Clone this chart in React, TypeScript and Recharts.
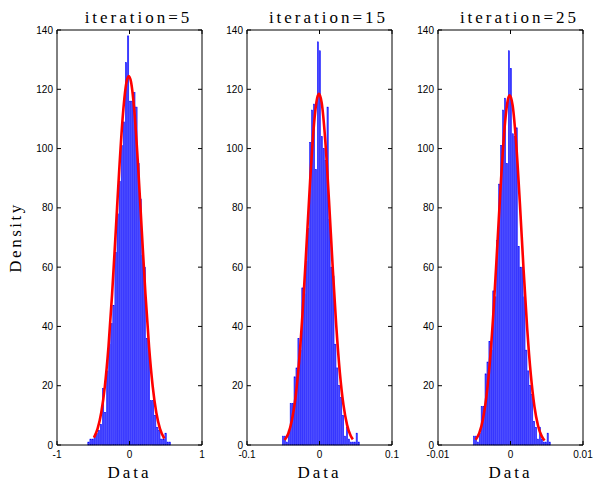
import { ComposedChart, Bar, Line, XAxis, YAxis, Label } from 'recharts'

// histogram counts per bin (40 equal-width bins per panel)
const binStart1 = -0.58
const binWidth1 = 0.02875
const counts1 = [
  1, 2, 2, 3, 4, 5, 7, 19, 11, 25,
  34, 41, 47, 65, 78, 89, 101, 109, 129, 138,
  116, 116, 119, 114, 95, 83, 64, 60, 36, 32,
  15, 15, 10, 6, 5, 2, 2, 4, 1, 1,
]

const binStart2 = -0.0517
const binWidth2 = 0.002676
const counts2 = [
  3, 3, 1, 5, 14, 14, 23, 26, 36, 32,
  53, 51, 62, 73, 102, 113, 115, 93, 136, 133,
  104, 100, 96, 114, 76, 60, 57, 34, 26, 20,
  16, 10, 3, 6, 2, 1, 1, 1, 4, 1,
]

const binStart3 = -0.00517
const binWidth3 = 0.0002676
const counts3 = [
  3, 3, 1, 4, 13, 13, 24, 28, 35, 32,
  52, 50, 69, 88, 101, 113, 117, 95, 133, 127,
  105, 104, 107, 67, 60, 60, 50, 32, 25, 20,
  17, 8, 6, 2, 6, 2, 1, 1, 4, 1,
]

// fitted density curves
const curveX1 = [-0.49, -0.44, -0.39, -0.34, -0.29, -0.24, -0.19, -0.14, -0.09, -0.04, -0.01, 0.02, 0.07, 0.12, 0.17, 0.22, 0.27, 0.32, 0.37, 0.42, 0.48]
const curveY1 = [2.5, 5.5, 10.9, 19.8, 33.1, 50.9, 72, 93.5, 111.7, 122.6, 124.5, 122.6, 111.7, 93.5, 72, 50.9, 33.1, 19.8, 10.9, 5.5, 2.2]

const curveX2 = [-0.048, -0.043, -0.038, -0.033, -0.028, -0.023, -0.018, -0.013, -0.008, -0.003, -0.0007, 0.003, 0.008, 0.013, 0.018, 0.023, 0.028, 0.033, 0.038, 0.043, 0.046]
const curveY2 = [1.7, 3.9, 8.4, 16.2, 28.6, 45.9, 67, 88.8, 107, 117.3, 118.5, 115.5, 102.6, 82.9, 60.9, 40.6, 24.6, 13.6, 6.8, 3.1, 1.9]

const curveX3 = [-0.0048, -0.0043, -0.0038, -0.0033, -0.0028, -0.0023, -0.0018, -0.0013, -0.0008, -0.0003, -0.0001, 0.0003, 0.0008, 0.0013, 0.0018, 0.0023, 0.0028, 0.0033, 0.0038, 0.0043, 0.0047]
const curveY3 = [1.8, 4.1, 8.7, 16.8, 29.4, 46.9, 68.1, 89.7, 107.5, 117.1, 118, 114.5, 101.1, 81.3, 59.3, 39.4, 23.8, 13.0, 6.5, 3.0, 1.5]

const yTicks = [0, 20, 40, 60, 80, 100, 120, 140]
const xTicks1 = [-1, 0, 1]
const xTicks2 = [-0.1, 0, 0.1]
const xTicks3 = [-0.01, 0, 0.01]
const xLabels1 = ['-1', '0', '1']
const xLabels2 = ['-0.1', '0', '0.1']
const xLabels3 = ['-0.01', '0', '0.01']
const titles = ['iteration=5', 'iteration=15', 'iteration=25']

// layout of each panel's svg
const AXIS_W = 40
const PLOT_W = 145
const PLOT_T = 30
const PLOT_B = 445
const RIGHT_PAD = 15
const CHART_W = AXIS_W + PLOT_W + 1 + RIGHT_PAD
const CHART_H = 483
const panelLefts = [57, 247, 438]

const serif = '"Liberation Serif", "DejaVu Serif", serif'
const sans = '"Liberation Sans", Arial, sans-serif'

function LeftTick({ y, payload }: any) {
  return (
    <g>
      <line x1={AXIS_W} x2={AXIS_W + 4} y1={y} y2={y} stroke="#000" />
      <text x={AXIS_W - 4} y={y + 3.5} textAnchor="end" fontSize={10} fontFamily={sans} fill="#000">
        {payload.value}
      </text>
    </g>
  )
}

function RightTick({ y }: any) {
  const x = AXIS_W + PLOT_W
  return <line x1={x} x2={x - 4} y1={y} y2={y} stroke="#000" />
}

function TopTick({ x }: any) {
  return <line x1={x} x2={x} y1={PLOT_T} y2={PLOT_T + 4} stroke="#000" />
}

function makeBottomTick(ticks: number[], labels: string[]) {
  return function BottomTick({ x, payload }: any) {
    const i = ticks.indexOf(payload.value)
    return (
      <g>
        <line x1={x} x2={x} y1={PLOT_B} y2={PLOT_B - 4} stroke="#000" />
        <text x={x} y={PLOT_B + 13} textAnchor="middle" fontSize={10} fontFamily={sans} fill="#000">
          {labels[i]}
        </text>
      </g>
    )
  }
}

// histogram bar: centred on the scaled bin centre, full bin width minus a hairline gap
function makeHistBar(binPx: number) {
  return function HistBar({ x, y, width, height }: any) {
    if (!height || height <= 0) return null
    const cx = x + width / 2
    return (
      <rect
        x={cx - binPx / 2 + 0.35}
        y={y}
        width={binPx - 0.7}
        height={height}
        fill="#4848ff"
        stroke="#0000ff"
        strokeWidth={0.5}
      />
    )
  }
}

type PanelProps = {
  left: number
  binStart: number
  binWidth: number
  counts: number[]
  curveX: number[]
  curveY: number[]
  xTicks: number[]
  xLabels: string[]
}

function Panel({ left, binStart, binWidth, counts, curveX, curveY, xTicks, xLabels }: PanelProps) {
  const bins = counts.map((c, i) => ({ x: binStart + (i + 0.5) * binWidth, count: c }))
  const curve = curveX.map((x, i) => ({ x, y: curveY[i] }))
  const lo = xTicks[0]
  const hi = xTicks[xTicks.length - 1]
  const binPx = (binWidth / (hi - lo)) * PLOT_W
  const BottomTick = makeBottomTick(xTicks, xLabels)
  const HistBar = makeHistBar(binPx)

  return (
    <div style={{ position: 'absolute', left: left - AXIS_W, top: 0 }}>
      <ComposedChart
        width={CHART_W}
        height={CHART_H}
        data={bins}
        margin={{ top: PLOT_T - 1, right: RIGHT_PAD, bottom: 2, left: 0 }}
        barGap={0}
        barCategoryGap={0}
        style={{ overflow: 'visible' }}
      >
        <XAxis
          dataKey="x"
          type="number"
          domain={[lo, hi]}
          ticks={xTicks}
          allowDataOverflow
          height={CHART_H - PLOT_B - 2}
          tickLine={false}
          tick={<BottomTick />}
          axisLine={{ stroke: '#000' }}
          interval={0}
        >
          <Label
            value="Data"
            position="insideBottom"
            offset={3}
            style={{ fontFamily: serif, fontSize: 17, letterSpacing: 3, fill: '#000' }}
          />
        </XAxis>
        <XAxis
          xAxisId="top"
          orientation="top"
          dataKey="x"
          type="number"
          domain={[lo, hi]}
          ticks={xTicks}
          allowDataOverflow
          height={1}
          tickLine={false}
          tick={<TopTick />}
          axisLine={{ stroke: '#000' }}
          interval={0}
        />
        <YAxis
          type="number"
          domain={[0, 140]}
          ticks={yTicks}
          width={AXIS_W}
          tickLine={false}
          tick={<LeftTick />}
          axisLine={{ stroke: '#000' }}
          interval={0}
        />
        <YAxis
          yAxisId="right"
          orientation="right"
          type="number"
          domain={[0, 140]}
          ticks={yTicks}
          width={1}
          tickLine={false}
          tick={<RightTick />}
          axisLine={{ stroke: '#000' }}
          interval={0}
        />
        <Bar
          dataKey="count"
          barSize={binPx}
          shape={<HistBar />}
          isAnimationActive={false}
        />
        {/* invisible copy of the curve so the frame axes are bound to a series */}
        <Line
          data={curve}
          dataKey="y"
          xAxisId="top"
          yAxisId="right"
          stroke="none"
          dot={false}
          legendType="none"
          isAnimationActive={false}
        />
        <Line
          data={curve}
          dataKey="y"
          type="monotone"
          stroke="#ff0000"
          strokeWidth={2.6}
          dot={false}
          isAnimationActive={false}
        />
      </ComposedChart>
    </div>
  )
}

export default function App() {
  const panels = [
    { binStart: binStart1, binWidth: binWidth1, counts: counts1, curveX: curveX1, curveY: curveY1, xTicks: xTicks1, xLabels: xLabels1 },
    { binStart: binStart2, binWidth: binWidth2, counts: counts2, curveX: curveX2, curveY: curveY2, xTicks: xTicks2, xLabels: xLabels2 },
    { binStart: binStart3, binWidth: binWidth3, counts: counts3, curveX: curveX3, curveY: curveY3, xTicks: xTicks3, xLabels: xLabels3 },
  ]

  return (
    <div style={{ position: 'absolute', left: 0, top: 0, width: 593, height: 483, background: '#fff' }}>
      {panels.map((p, i) => (
        <Panel key={i} left={panelLefts[i]} {...p} />
      ))}
      <svg width={593} height={483} style={{ position: 'absolute', left: 0, top: 0, pointerEvents: 'none' }}>
        {titles.map((t, i) => (
          <text
            key={t}
            x={panelLefts[i] + PLOT_W / 2 + 9}
            y={23}
            textAnchor="middle"
            fontFamily={serif}
            fontSize={17}
            letterSpacing={3}
            fill="#000"
          >
            {t}
          </text>
        ))}
        <text
          transform={`translate(21, ${(PLOT_T + PLOT_B) / 2}) rotate(-90)`}
          textAnchor="middle"
          fontFamily={serif}
          fontSize={17}
          letterSpacing={2.5}
          fill="#000"
        >
          Density
        </text>
      </svg>
    </div>
  )
}
